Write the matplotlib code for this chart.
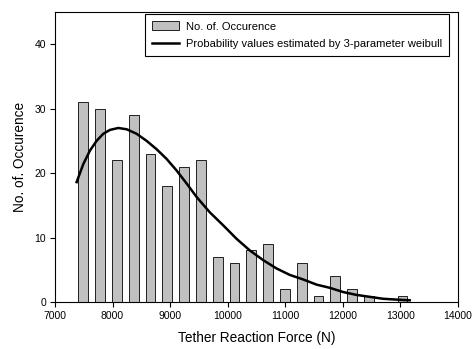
import matplotlib.pyplot as plt

plt.rcParams['font.family'] = ['Liberation Sans', 'DejaVu Sans']

# bin centres (N) and counts of the histogram
bin_centers = [7491, 7783, 8075, 8367, 8659, 8951, 9243, 9535, 9827, 10119,
               10411, 10703, 10995, 11287, 11579, 11871, 12163, 12455, 12747, 13039]
counts = [31, 30, 22, 29, 23, 18, 21, 22, 7, 6,
          8, 9, 2, 6, 1, 4, 2, 1, 0, 1]

# 3-parameter weibull curve
curve_x = [7376, 7492, 7608, 7723, 7839, 7955, 8100, 8245, 8418, 8592,
           8766, 8939, 9113, 9286, 9460, 9691, 9922, 10155, 10385, 10616,
           10850, 11080, 11311, 11543, 11774, 12005, 12237, 12469, 12700,
           12932, 13163]
curve_y = [18.6, 21.4, 23.5, 25.0, 26.1, 26.7, 27.0, 26.8, 26.1, 25.0,
           23.7, 22.2, 20.4, 18.4, 16.3, 13.9, 11.9, 9.8, 8.0, 6.5,
           5.2, 4.2, 3.5, 2.7, 2.2, 1.55, 1.1, 0.8, 0.5, 0.37, 0.26]

fig = plt.figure(figsize=(4.74, 3.49), dpi=100)
ax = fig.add_axes([0.116, 0.1347, 0.850, 0.831])

bars = ax.bar(bin_centers, counts, width=170, color='#c0c0c0', edgecolor='#202020',
              linewidth=0.7, label='No. of. Occurence')
line, = ax.plot(curve_x, curve_y, color='black', lw=1.8,
                label='Probability values estimated by 3-parameter weibull')

ax.set_xlim(7000, 14000)
ax.set_ylim(0, 45)
ax.set_xticks(range(7000, 14001, 1000))
ax.set_yticks([0, 10, 20, 30, 40])
ax.tick_params(direction='out', length=3.5, width=0.8, labelsize=7.5, pad=3)
for s in ax.spines.values():
    s.set_linewidth(0.8)

ax.set_xlabel('Tether Reaction Force (N)', fontsize=9.8, labelpad=7)
ax.set_ylabel('No. of. Occurence', fontsize=9.8, labelpad=5)

leg = ax.legend(handles=[bars, line], loc='upper right',
                bbox_to_anchor=(0.978, 0.993), borderaxespad=0, fontsize=8,
                fancybox=False, framealpha=1, edgecolor='black',
                handlelength=2.45, handleheight=0.9, borderpad=0.65,
                labelspacing=0.6, handletextpad=0.6)
leg.get_frame().set_linewidth(0.8)

fig.savefig('out.png', dpi=100)
